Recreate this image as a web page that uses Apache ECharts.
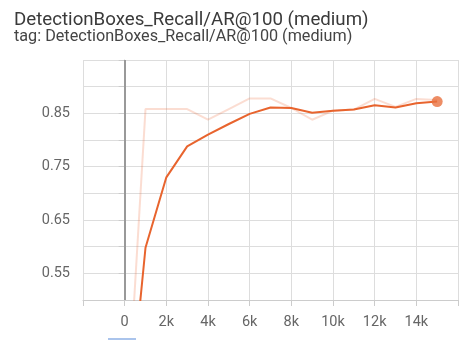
<!DOCTYPE html>
<html>
<head>
<meta charset="utf-8">
<script src="https://cdn.jsdelivr.net/npm/echarts@6/dist/echarts.min.js"></script>
<style>html,body{margin:0;padding:0;background:#fff;}#c{width:470px;height:340px;}</style>
</head>
<body>
<div id="c"></div>
<script>
const titleText = 'DetectionBoxes_Recall/AR@100 (medium)';
const subText = 'tag: DetectionBoxes_Recall/AR@100 (medium)';
const steps = [0, 1000, 2000, 3000, 4000, 5000, 6000, 7000, 8000, 9000, 10000, 11000, 12000, 13000, 14000, 15000];
const rawValues = [0.20, 0.858, 0.858, 0.858, 0.838, 0.858, 0.878, 0.878, 0.860, 0.838, 0.855, 0.857, 0.877, 0.862, 0.877, 0.875];
const smoothedValues = [0.20, 0.598, 0.730, 0.788, 0.810, 0.830, 0.849, 0.861, 0.860, 0.851, 0.855, 0.857, 0.865, 0.861, 0.869, 0.872];
const yTickLabels = ['0.55', '0.65', '0.75', '0.85'];

const chart = echarts.init(document.getElementById('c'), null, {renderer: 'canvas'});
const pair = (xs, ys) => xs.map((x, i) => [x, ys[i]]);
const lastIdx = steps.length - 1;

chart.setOption({
  animation: false,
  backgroundColor: '#fff',
  textStyle: {fontFamily: 'Roboto'},
  grid: {left: 83, right: 12, top: 60, bottom: 40, containLabel: false},
  xAxis: {
    type: 'value', min: -2000, max: 16000, interval: 2000,
    axisLine: {show: true, lineStyle: {color: '#ccc', width: 1}},
    axisTick: {show: true, length: 6, lineStyle: {color: '#ccc'}},
    splitLine: {show: true, lineStyle: {color: '#ddd', width: 1}},
    axisLabel: {
      color: '#666', fontSize: 14.5, fontFamily: 'Roboto', margin: 15,
      formatter: v => v === 0 ? '0' : (v < 0 || v >= 16000) ? '' : (v / 1000) + 'k'
    }
  },
  yAxis: {
    type: 'value', min: 0.5, max: 0.95, interval: 0.05,
    axisLine: {show: true, lineStyle: {color: '#ccc', width: 1}},
    axisTick: {show: true, length: 6, lineStyle: {color: '#ccc'}},
    splitLine: {show: true, lineStyle: {color: '#ddd', width: 1}},
    axisLabel: {
      color: '#666', fontSize: 14.5, fontFamily: 'Roboto', margin: 13,
      formatter: v => { const s = v.toFixed(2); return yTickLabels.includes(s) ? s : ''; }
    }
  },
  series: [
    {
      type: 'line', data: pair(steps, rawValues), symbol: 'none', clip: true,
      lineStyle: {color: 'rgba(236,102,50,0.22)', width: 2}, z: 2,
      markLine: {
        silent: true, symbol: 'none', label: {show: false},
        lineStyle: {color: '#999', width: 2, type: 'solid'},
        data: [{xAxis: 0}]
      }
    },
    {
      type: 'line', data: pair(steps, smoothedValues), symbol: 'none', clip: true,
      lineStyle: {color: '#e8642e', width: 2}, z: 3
    },
    {
      type: 'scatter', data: [[steps[lastIdx], smoothedValues[lastIdx]]],
      symbol: 'circle', symbolSize: 11, itemStyle: {color: '#e8703e'}, z: 4
    }
  ],
  graphic: [
    {type: 'text', left: 14, top: 11, style: {text: titleText, font: '18.7px Roboto', fill: '#3a3a3a'}},
    {type: 'text', left: 14, top: 29, style: {text: subText, font: '16.2px Roboto', fill: '#444'}},
    {type: 'line', shape: {x1: 108, y1: 339, x2: 136, y2: 339}, style: {stroke: '#aac4ec', lineWidth: 2}}
  ]
});
</script>
</body>
</html>
